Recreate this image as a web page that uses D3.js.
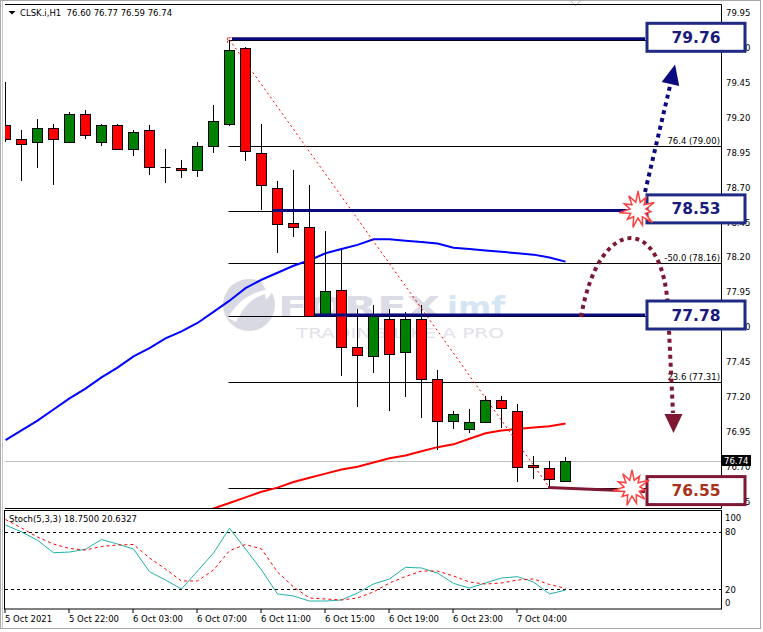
<!DOCTYPE html>
<html><head><meta charset="utf-8">
<script src="https://cdn.jsdelivr.net/npm/d3@7"></script>
<style>
html,body{margin:0;padding:0;background:#fff;}
svg{display:block;}
text{font-family:"DejaVu Sans",sans-serif;}
</style></head><body>
<svg id="c" width="763" height="632"></svg>
<script>
// ---------- DATA ----------
const symbolTitle = "CLSK.i,H1  76.60 76.77 76.59 76.74";
const stochTitle = "Stoch(5,3,3) 18.7500 20.6327";
const tickIdx = [0,4,8,12,16,20,24,28,32];
const tickLabels = ["5 Oct 2021","5 Oct 22:00","6 Oct 03:00","6 Oct 07:00","6 Oct 11:00","6 Oct 15:00","6 Oct 19:00","6 Oct 23:00","7 Oct 04:00"];
const open  = [79.15,79.05,79.03,79.13,79.03,79.23,79.03,79.15,78.98,79.11,78.85,78.84,78.83,79.00,79.16,79.70,78.95,78.70,78.45,78.42,77.78,77.97,77.56,77.49,77.76,77.52,77.76,77.33,77.03,76.97,77.02,77.18,77.10,76.71,76.69,76.60];
const high  = [79.46,79.11,79.19,79.16,79.24,79.26,79.16,79.16,79.11,79.15,78.98,78.90,79.03,79.29,79.76,79.71,79.16,78.75,78.83,78.72,78.39,78.25,77.83,77.86,77.83,77.81,77.86,77.39,77.10,77.11,77.21,77.21,77.15,76.78,76.74,76.77];
const low   = [79.03,78.75,78.84,78.72,79.02,79.05,79.00,78.97,78.93,78.79,78.73,78.77,78.78,78.95,79.14,78.89,78.54,78.23,78.35,77.77,77.77,77.35,77.13,77.37,77.10,77.20,77.05,76.82,76.97,76.94,77.01,76.98,76.59,76.61,76.55,76.59];
const close = [79.05,79.01,79.13,79.05,79.23,79.08,79.15,78.98,79.10,78.85,78.85,78.83,79.00,79.18,79.69,78.96,78.72,78.44,78.42,77.78,77.96,77.56,77.50,77.78,77.51,77.76,77.33,77.03,77.08,77.02,77.18,77.12,76.70,76.70,76.61,76.74];
const maBlue = [76.89,76.96,77.03,77.11,77.19,77.26,77.34,77.41,77.49,77.55,77.62,77.67,77.73,77.81,77.89,77.98,78.04,78.09,78.14,78.18,78.23,78.26,78.29,78.33,78.33,78.32,78.31,78.30,78.27,78.26,78.25,78.24,78.23,78.22,78.20,78.17];
const maRed = [null,null,null,null,null,null,null,null,null,null,null,null,76.35,76.40,76.44,76.48,76.52,76.55,76.59,76.62,76.65,76.68,76.70,76.73,76.76,76.78,76.81,76.84,76.86,76.90,76.94,76.96,76.97,76.98,76.99,77.01];
const stochK = [86.9,79.7,70.9,57.9,58.6,61.5,71.7,67.0,61.8,38.0,29.3,19.9,38.7,57.6,83.5,61.8,39.8,14.7,12.6,7.3,7.3,8.4,15.7,25.1,30.4,42.6,41.9,36.6,25.8,20.9,26.2,31.4,32.8,27.2,14.7,18.75];
const stochD = [92.7,83.8,74.3,67.0,62.3,60.7,64.4,66.0,66.5,52.4,40.8,28.3,28.3,39.8,60.0,66.5,61.8,37.7,22.0,10.5,9.4,8.4,10.5,16.8,26.2,33.0,38.7,38.7,33.5,27.2,25.1,26.2,29.3,30.4,24.6,20.63];
const priceTicks = [79.95,79.70,79.45,79.20,78.95,78.70,78.45,78.20,77.95,77.70,77.45,77.20,76.95,76.70,76.45];
const stochTicks = [100,80,20,0];
const stochLevels = [80,20];
const fibLevels = [79.76,79.00,78.53,78.16,77.78,77.31,76.55];
const fibLabelLevels = [79.00,78.16,77.31];
const fibLabels = ["76.4 (79.00)","-50.0 (78.16)","23.6 (77.31)"];
const lastPrice = 76.74;
const keyLevels = [79.76,78.53,77.78,76.55];
const keyLabels = ["79.76","78.53","77.78","76.55"];
const keyStartIdx = [14,17,19,34];
const trendFrom = {i:14, v:79.76};
const trendTo = {i:34, v:76.55};

// ---------- SCALES ----------
const svg = d3.select("#c");
const x = d3.scaleLinear().domain([0,35]).range([5.5,565.5]);
const y = d3.scaleLinear().domain([76.45,79.95]).range([501.55,13.3]);
const ys = d3.scaleLinear().domain([0,100]).range([608,512.5]);
const PX0=5, PX1=721.5, PY0=4.5, PY1=508.5;

// ---------- FRAME ----------
svg.append("rect").attr("x",0.5).attr("y",0.5).attr("width",760).attr("height",628)
  .attr("fill","#fff").attr("stroke","#a8a8a8");
svg.append("line").attr("x1",2.5).attr("x2",2.5).attr("y1",1).attr("y2",628).attr("stroke","#c8c8c8");
svg.append("polyline").attr("points","571,1 575.5,6 580,1").attr("fill","none").attr("stroke","#b8b8b8");

const defs = svg.append("defs");
defs.append("clipPath").attr("id","mainClip").append("rect")
  .attr("x",5).attr("y",5).attr("width",716).attr("height",503);
defs.append("clipPath").attr("id","stClip").append("rect")
  .attr("x",5).attr("y",511).attr("width",716).attr("height",98);

const main = svg.append("g").attr("clip-path","url(#mainClip)");

// watermark
const wm = main.append("g");
wm.append("circle").attr("cx",249).attr("cy",305).attr("r",26).attr("fill","#d9d9e4");
wm.append("path").attr("d","M228,318 C238,300 252,292 266,290 L262,283 L276,288 L266,300 L265,294 C254,297 244,305 236,322 Z").attr("fill","#fff");
wm.append("text").attr("x",278).attr("y",317).attr("font-size",29).attr("font-weight","bold")
  .attr("font-family","Liberation Sans, sans-serif").attr("textLength",162).attr("lengthAdjust","spacingAndGlyphs")
  .attr("fill","#dcdce6").text("FOREX");
wm.append("text").attr("x",447).attr("y",317).attr("font-size",29).attr("font-weight","bold")
  .attr("font-family","Liberation Sans, sans-serif").attr("textLength",58).attr("lengthAdjust","spacingAndGlyphs")
  .attr("fill","#d6e5f3").text("imf");
wm.append("text").attr("x",296).attr("y",338).attr("font-size",13.5)
  .attr("font-family","Liberation Sans, sans-serif").attr("textLength",208).attr("lengthAdjust","spacingAndGlyphs")
  .attr("fill","#e2e2ea").text("TRADING LIKE A PRO");

// last price line
main.append("line").attr("x1",PX0).attr("x2",PX1)
  .attr("y1",Math.round(y(lastPrice))+0.5).attr("y2",Math.round(y(lastPrice))+0.5)
  .attr("stroke","#c0c0c0");

// fib lines
main.selectAll("line.fib").data(fibLevels).join("line").attr("class","fib")
  .attr("x1",x(trendFrom.i)-1).attr("x2",PX1)
  .attr("y1",d=>Math.round(y(d))+0.5).attr("y2",d=>Math.round(y(d))+0.5)
  .attr("stroke","#000");
main.selectAll("text.fib").data(fibLabelLevels).join("text").attr("class","fib")
  .attr("x",720).attr("y",d=>Math.round(y(d))-2.5).attr("text-anchor","end")
  .attr("font-size",8.5).attr("fill","#000").text((d,i)=>fibLabels[i]);

// moving averages
const lineGen = d3.line().defined(d=>d!=null).x((d,i)=>x(i)).y(d=>y(d));
main.append("path").attr("d",lineGen(maBlue)).attr("fill","none").attr("stroke","#0000ff").attr("stroke-width",2);
main.append("path").attr("d",lineGen(maRed)).attr("fill","none").attr("stroke","#ff0000").attr("stroke-width",2);

// candles
const candles = d3.range(open.length).map(i=>({i,o:open[i],h:high[i],l:low[i],c:close[i]}));
const gC = main.append("g");
gC.selectAll("line.wick").data(candles).join("line").attr("class","wick")
  .attr("x1",d=>x(d.i)).attr("x2",d=>x(d.i))
  .attr("y1",d=>Math.round(y(d.h))).attr("y2",d=>Math.round(y(d.l)))
  .attr("stroke","#000");
candles.forEach(d=>{
  const t = Math.round(y(Math.max(d.o,d.c))), b = Math.round(y(Math.min(d.o,d.c)));
  if (b - t < 1) {
    gC.append("line").attr("x1",x(d.i)-5).attr("x2",x(d.i)+5).attr("y1",t+0.5).attr("y2",t+0.5).attr("stroke","#000");
  } else {
    gC.append("rect").attr("x",x(d.i)-5).attr("width",10).attr("y",t+0.5).attr("height",b-t)
      .attr("fill", d.c>d.o ? "#008000" : "#ff0000").attr("stroke","#000");
  }
});

// trend line (fib base)
main.append("line").attr("x1",x(trendFrom.i)).attr("y1",y(trendFrom.v))
  .attr("x2",x(trendTo.i)).attr("y2",y(trendTo.v))
  .attr("stroke","#ff0000").attr("stroke-dasharray","2,3");
main.append("path").attr("d",`M${x(trendFrom.i)-2},${y(trendFrom.v)+3} V${y(trendFrom.v)-2} H${x(trendFrom.i)+3}`)
  .attr("fill","none").attr("stroke","#ff0000").attr("stroke-dasharray","2,1");

// key level lines
const navy = "#0b0b80", maroon = "#7e1833";
const keyOffsets = [2.5,-4.5,5.5,-1.5];
keyLevels.slice(0,3).forEach((v,i)=>{
  main.append("line").attr("x1",x(keyStartIdx[i])+keyOffsets[i]).attr("x2",645)
    .attr("y1",y(v)-1).attr("y2",y(v)-1).attr("stroke",navy).attr("stroke-width",3);
});
svg.append("line").attr("x1",x(keyStartIdx[3])+keyOffsets[3]).attr("y1",y(keyLevels[3]))
  .attr("x2",645).attr("y2",y(keyLevels[3])+4).attr("stroke",maroon).attr("stroke-width",3);

// ---------- MAIN AXIS ----------
svg.append("line").attr("x1",PX0).attr("x2",PX1).attr("y1",PY0).attr("y2",PY0).attr("stroke","#000");
svg.append("line").attr("x1",PX1).attr("x2",PX1).attr("y1",PY0).attr("y2",PY1).attr("stroke","#000");
svg.append("line").attr("x1",PX0).attr("x2",PX1).attr("y1",PY1).attr("y2",PY1).attr("stroke","#000");
svg.selectAll("text.pt").data(priceTicks).join("text").attr("class","pt")
  .attr("x",726).attr("y",d=>y(d)+3).attr("font-size",8.5).attr("fill","#000")
  .text(d=>d.toFixed(2));

// title
svg.append("polygon").attr("points","8.5,11 15.5,11 12,14.5").attr("fill","#000");
svg.append("text").attr("x",20).attr("y",16).attr("font-size",8.5).attr("fill","#000")
  .attr("xml:space","preserve").style("white-space","pre").text(symbolTitle);

// ---------- STOCH PANEL ----------
svg.append("rect").attr("x",4.5).attr("y",510.5).attr("width",717).attr("height",98.5)
  .attr("fill","none").attr("stroke","#000");
const st = svg.append("g").attr("clip-path","url(#stClip)");
st.selectAll("line.lv").data(stochLevels).join("line").attr("class","lv")
  .attr("x1",5).attr("x2",721).attr("y1",d=>Math.round(ys(d))+0.5).attr("y2",d=>Math.round(ys(d))+0.5)
  .attr("stroke","#000").attr("stroke-dasharray","3,3");
const sLine = d3.line().x((d,i)=>x(i)).y(d=>ys(d));
st.append("path").attr("d",sLine(stochK)).attr("fill","none").attr("stroke","#20b2aa").attr("stroke-width",1);
st.append("path").attr("d",sLine(stochD)).attr("fill","none").attr("stroke","#ff0000").attr("stroke-width",1).attr("stroke-dasharray","3,3");
svg.append("text").attr("x",9).attr("y",522).attr("font-size",8.5).attr("fill","#000").text(stochTitle);
const stLabelY = {100:520.5, 80:534.5, 20:592.5, 0:605.5};
svg.selectAll("text.st").data(stochTicks).join("text").attr("class","st")
  .attr("x",725).attr("y",d=>stLabelY[d]).attr("font-size",8.5).attr("fill","#000").text(d=>d);

// x axis
svg.selectAll("line.xt").data(tickIdx).join("line").attr("class","xt")
  .attr("x1",d=>x(d)-0.5).attr("x2",d=>x(d)-0.5).attr("y1",609).attr("y2",613).attr("stroke","#000");
svg.selectAll("text.xt").data(tickIdx).join("text").attr("class","xt")
  .attr("x",d=>x(d)-0.5).attr("y",621.5).attr("font-size",8.5).attr("fill","#000")
  .text((d,i)=>tickLabels[i]);

// ---------- ANNOTATIONS ----------
// navy dotted arrow
(function(){
  const p0=[645,192], p1=[670,86];
  const dx=p1[0]-p0[0], dy=p1[1]-p0[1], L=Math.hypot(dx,dy), ux=dx/L, uy=dy/L;
  svg.append("line").attr("x1",p0[0]).attr("y1",p0[1]).attr("x2",p1[0]).attr("y2",p1[1])
    .attr("stroke",navy).attr("stroke-width",4).attr("stroke-dasharray","4,4");
  const tip=[p1[0]+ux*22,p1[1]+uy*22], bc=[p1[0]+ux*2,p1[1]+uy*2], px=-uy, py=ux;
  svg.append("polygon").attr("points",`${tip[0]},${tip[1]} ${bc[0]+px*9},${bc[1]+py*9} ${bc[0]-px*9},${bc[1]-py*9}`)
    .attr("fill",navy);
})();
// maroon dotted arc arrow
svg.append("path").attr("d","M581,317 C599,213 664,213 668,310 L673,413")
  .attr("fill","none").attr("stroke",maroon).attr("stroke-width",4).attr("stroke-dasharray","4,4");
svg.append("polygon").attr("points","673.5,433 664.5,414 682.5,414").attr("fill",maroon);

// boxes
const boxDy = [-2.5,-2.5,-1,3];
keyLevels.forEach((v,i)=>{
  const cy = y(v)+boxDy[i];
  const isDown = i===3;
  svg.append("rect").attr("x",647).attr("y",cy-14).attr("width",98).attr("height",28)
    .attr("fill","#fff").attr("stroke",isDown?maroon:"#1f2a84").attr("stroke-width",3);
  svg.append("text").attr("x",696).attr("y",cy+5.5).attr("text-anchor","middle")
    .attr("font-family","Liberation Sans, sans-serif").attr("font-weight","bold").attr("font-size",15.5)
    .attr("fill",isDown?"#a8321c":"#1a1a7c").text(keyLabels[i]);
});

// starbursts
function star(cx,cy,rs){
  const pts=[]; const n=rs.length;
  for(let i=0;i<n*2;i++){
    const a = -Math.PI/2 + i*Math.PI/n;
    const r = i%2===0 ? rs[i/2] : 8;
    pts.push([cx+r*Math.cos(a), cy+r*Math.sin(a)]);
  }
  svg.append("polygon").attr("points",pts.map(p=>p.join(",")).join(" "))
    .attr("fill","#fff").attr("stroke","#ff4040").attr("stroke-width",1.5);
}
star(638,210,[19,15,18,13,19,16,18,14,19,15,17]);
star(632,488,[18,14,19,13,17,16,18,13,19,15,17]);

// last price label
svg.append("rect").attr("x",722).attr("y",455).attr("width",29).attr("height",11).attr("fill","#000");
svg.append("text").attr("x",724).attr("y",464).attr("font-size",8.5).attr("fill","#fff").text(lastPrice.toFixed(2));
</script>
</body></html>
